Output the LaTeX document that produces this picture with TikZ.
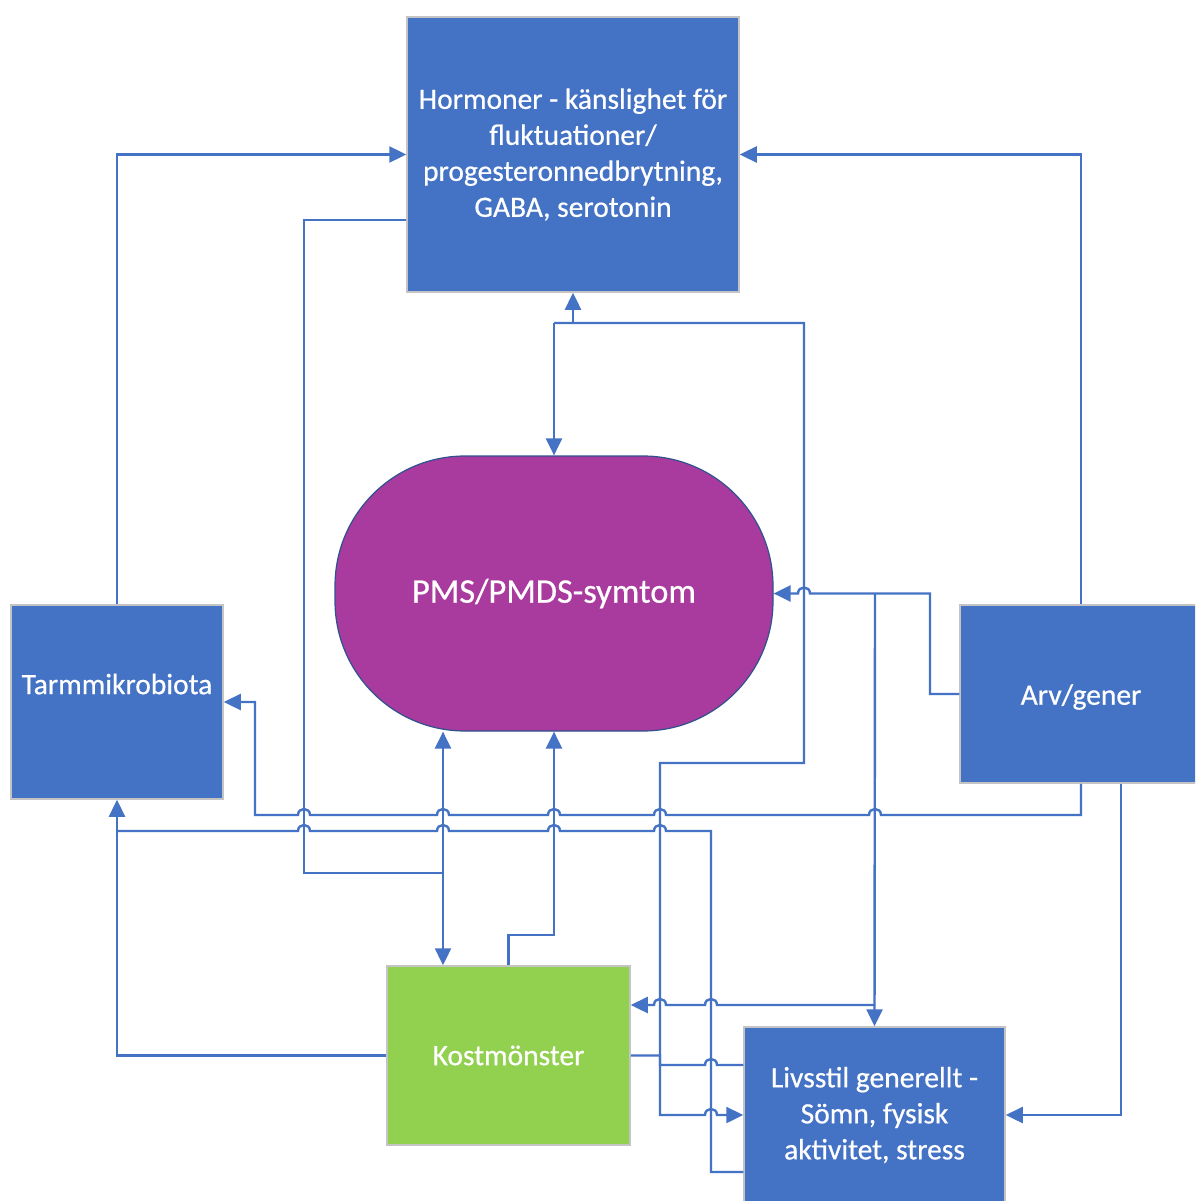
\documentclass[tikz,border=0pt]{standalone}
\usepackage{fontspec}
\setmainfont[FakeBold=0.6]{Carlito}
\usetikzlibrary{arrows.meta}
\definecolor{cblue}{HTML}{4472C4}
\definecolor{cpurple}{HTML}{A93B9E}
\definecolor{cgreen}{HTML}{92D050}
\definecolor{cedge}{HTML}{C4C4C4}
\definecolor{cpedge}{HTML}{2F528F}
\newcommand{\hopR}[2]{-- (#1-6,#2) .. controls (#1-6,#2-8) and (#1+6,#2-8) .. (#1+6,#2)}
\newcommand{\hopL}[2]{-- (#1+6,#2) .. controls (#1+6,#2-8) and (#1-6,#2-8) .. (#1-6,#2)}
\tikzset{
  boxbase/.style={rectangle, inner sep=0pt, text=white, align=center,
    font=\fontsize{29.5}{36}\selectfont},
  bluebox/.style={boxbase, fill=cblue, draw=cedge, line width=1.5pt},
  greenbox/.style={boxbase, fill=cgreen, draw=cedge, line width=1.5pt},
  txt/.style={text=white, align=center, font=\fontsize{29.5}{36}\selectfont, inner sep=0pt},
  conn/.style={draw=cblue, line width=2.4pt, line join=miter},
  tip/.style={-{Triangle[length=17pt,width=16pt]}},
}
\begin{document}
\begin{tikzpicture}[x=1pt,y=-1pt]
\useasboundingbox (0,0) rectangle (1195,1201);
\clip (0,0) rectangle (1195,1201);
\fill[white] (0,0) rectangle (1195,1201);

% nodes
\node[bluebox, minimum width=332pt, minimum height=275pt] (H) at (573,154.5)
  {Hormoner - känslighet för\\fluktuationer/\\progesteronnedbrytning,\\GABA, serotonin};
\node[boxbase, fill=cpurple, draw=cpedge, line width=1.2pt, rounded corners=130pt,
  minimum width=438pt, minimum height=275pt,
  font=\fontsize{34.5}{42}\selectfont] (P) at (554,593.5) {PMS/PMDS-symtom};
\node[bluebox, minimum width=212pt, minimum height=194pt] (T) at (117,702) {};
\node[txt] (Tlbl) at (117,684) {Tarmmikrobiota};
\node[bluebox, minimum width=242pt, minimum height=178pt] (A) at (1081,694) {};
\node[txt] (Albl) at (1081,697) {Arv/gener};
\node[greenbox, minimum width=243pt, minimum height=179pt] (K) at (508.5,1055.5) {Kostmönster};
\node[bluebox, minimum width=261pt, minimum height=176pt] (L) at (874.5,1115)
  {Livsstil generellt -\\Sömn, fysisk\\aktivitet, stress};

\coordinate (j1) at (117,831);

% C1: Tarm -> Hormoner
\draw[conn, tip] (T.north) -- (117,154.5) -- (H.west);
% C2: Arv -> Hormoner
\draw[conn, tip] (A.north) -- (1081,154.5) -- (H.east);
% C3: Hormoner -> Kost (joins PMS-Kost line)
\draw[conn] ([yshift=-65.5pt]H.west) -- (304,220) -- (304,873) -- (443,873);
% C4: PMS <-> Kost
\draw[conn, {Triangle[length=17pt,width=16pt]}-{Triangle[length=17pt,width=16pt]}]
  ([xshift=-111pt]P.south) -- ([xshift=-65.5pt]K.north);
% C5: Kost -> PMS
\draw[conn, tip] (K.north) -- (508.5,935) -- (554,935) -- (P.south);
% C6: Hormoner / PMS / Livsstil
\draw[conn, tip] (573,323) -- (H.south);
\draw[conn, tip] (554,323) -- (P.north);
\draw[conn, tip] (554,323) -- (804,323) -- (804,763) -- (660,763) -- (660,1115)
  \hopR{711}{1115} -- (L.west);
% C7: Arv -> PMS, Livsstil, Kost
\draw[conn, tip] (A.west) -- (930,694) -- (930,593.5) \hopL{804}{593.5} -- (P.east);
\draw[conn, tip] (875,593.5) -- (L.north);
\draw[conn, tip] (875,1005) \hopL{711}{1005} \hopL{660}{1005} -- ([yshift=50.5pt]K.east);
% C8: Arv -> Tarm
\draw[conn, tip] (A.south) -- (1081,815) \hopL{875}{815} \hopL{660}{815} \hopL{554}{815}
  \hopL{443}{815} \hopL{304}{815} -- (255,815) -- (255,702) -- (T.east);
% C9: Arv -> Livsstil
\draw[conn, tip] ([xshift=40pt]A.south) -- (1121,1115) -- (L.east);
% C10: Kost -> Tarm
\draw[conn, tip] (K.west) -- (117,1055.5) -- (T.south);
% C11: Livsstil -> Tarm (branch)
\draw[conn] (j1) \hopR{304}{831} \hopR{443}{831} \hopR{554}{831} \hopR{660}{831}
  -- (711,831) -- (711,1172) -- ([yshift=-57pt]L.west);
% C12: Kost -> Livsstil
\draw[conn] (K.east) -- (660,1055.5) -- (660,1065) \hopR{711}{1065} -- ([yshift=50pt]L.west);
\end{tikzpicture}
\end{document}
